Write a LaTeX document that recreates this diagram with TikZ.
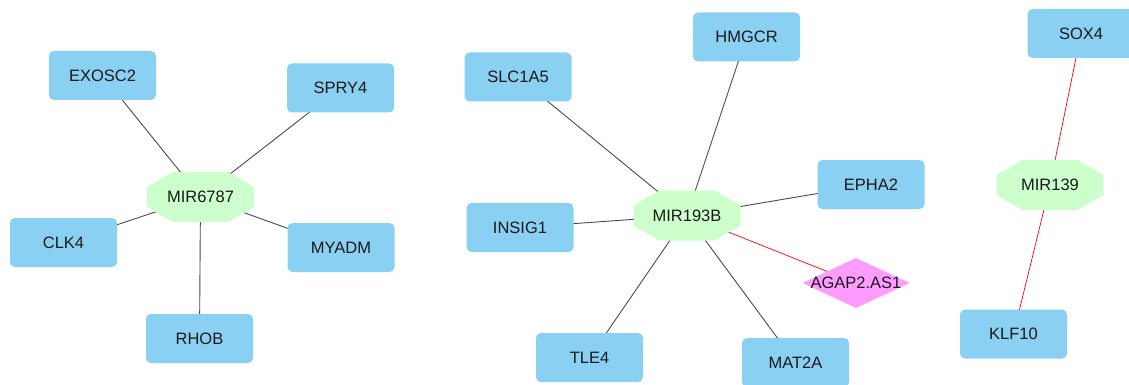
\documentclass[tikz,border=0pt]{standalone}
\usepackage{fontspec}
\setmainfont{Liberation Sans}
\usetikzlibrary{backgrounds}
\definecolor{gene}{HTML}{8AD0F3}
\definecolor{mir}{HTML}{CCFFCC}
\definecolor{lnc}{HTML}{FF9CFF}
\definecolor{edgegrey}{HTML}{4A4A4A}
\definecolor{txt}{HTML}{1A1A1A}
\tikzset{
  base/.style={minimum width=107pt, inner sep=0pt, text=txt, font=\fontsize{16.5}{19}\selectfont},
  genebox/.style={base, minimum height=49pt, fill=gene, rounded corners=5pt},
  mirnode/.style={base, minimum height=50pt, path picture={
    \fill[mir] ([xshift=26pt]path picture bounding box.north west)
      -- ([xshift=-26pt]path picture bounding box.north east)
      -- ([yshift=-15pt]path picture bounding box.north east)
      -- ([yshift=15pt]path picture bounding box.south east)
      -- ([xshift=-26pt]path picture bounding box.south east)
      -- ([xshift=26pt]path picture bounding box.south west)
      -- ([yshift=15pt]path picture bounding box.south west)
      -- ([yshift=-15pt]path picture bounding box.north west) -- cycle;}},
  lncnode/.style={base, minimum height=50pt, path picture={
    \fill[lnc] (path picture bounding box.north)
      -- (path picture bounding box.east)
      -- (path picture bounding box.south)
      -- (path picture bounding box.west) -- cycle;}},
  link/.style={draw=edgegrey, line width=0.9pt},
  redlink/.style={draw=red, line width=0.7pt}
}
\begin{document}
\begin{tikzpicture}[x=1pt,y=-1pt]
\useasboundingbox (0,0) rectangle (1129,385);
\clip (0,0) rectangle (1129,385);
% component 1
\node[mirnode] (m6787) at (200.5,197) {MIR6787};
\node[genebox] (exosc2) at (102.5,75.5) {EXOSC2};
\node[genebox] (spry4) at (340.5,88) {SPRY4};
\node[genebox] (clk4) at (63.5,242.5) {CLK4};
\node[genebox] (myadm) at (341,247.5) {MYADM};
\node[genebox] (rhob) at (199.5,338.5) {RHOB};
% component 2
\node[mirnode] (m193b) at (687,215.5) {MIR193B};
\node[genebox] (slc1a5) at (518,77) {SLC1A5};
\node[genebox] (hmgcr) at (746.5,37) {HMGCR};
\node[genebox] (epha2) at (871,184.5) {EPHA2};
\node[genebox] (insig1) at (520,227.5) {INSIG1};
\node[genebox] (tle4) at (589.5,357.5) {TLE4};
\node[genebox] (mat2a) at (795.5,362.5) {MAT2A};
\node[lncnode] (agap) at (856,283) {AGAP2.AS1};
% component 3
\node[mirnode] (m139) at (1050,185) {MIR139};
\node[genebox] (sox4) at (1081,33.5) {SOX4};
\node[genebox] (klf10) at (1013.5,334) {KLF10};
\begin{scope}[on background layer]
\draw[link] (m6787.center) -- (exosc2.center);
\draw[link] (m6787.center) -- (spry4.center);
\draw[link] (m6787.center) -- (clk4.center);
\draw[link] (m6787.center) -- (myadm.center);
\draw[link] (m6787.center) -- (rhob.center);
\draw[link] (m193b.center) -- (slc1a5.center);
\draw[link] (m193b.center) -- (hmgcr.center);
\draw[link] (m193b.center) -- (epha2.center);
\draw[link] (m193b.center) -- (insig1.center);
\draw[link] (m193b.center) -- (tle4.center);
\draw[link] (m193b.center) -- (mat2a.center);
\draw[redlink] (m193b.center) -- (agap.center);
\draw[redlink] (m139.center) -- (sox4.center);
\draw[redlink] (m139.center) -- (klf10.center);
\end{scope}
\end{tikzpicture}
\end{document}
